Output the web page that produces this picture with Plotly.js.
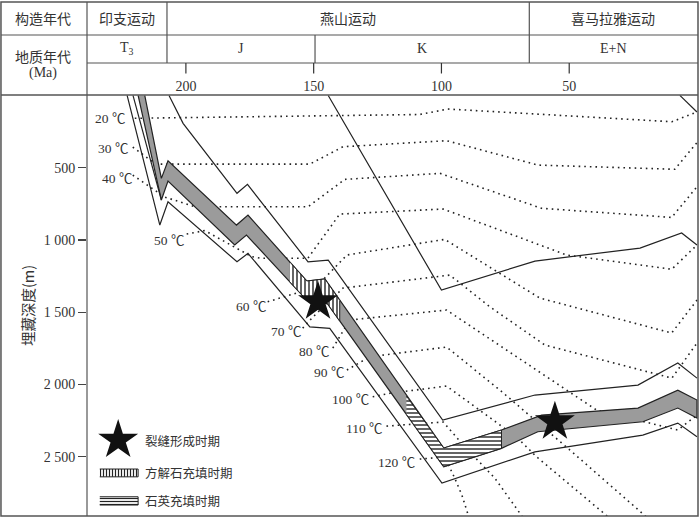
<!DOCTYPE html>
<html>
<head>
<meta charset="utf-8">
<script src="https://cdn.plot.ly/plotly-3.0.1.min.js"></script>
<style>
  html, body { margin: 0; padding: 0; background: #fff; }
  #chart { width: 700px; height: 517px; }
</style>
</head>
<body>
<div id="chart"></div>
<script>
// burial history, ages in Ma, depths in m

// target formation (grey band)
const bandTopAge = [216.1, 209.6, 207.0, 180.2, 175.7, 152.7, 145.6, 99.1, 76.5, 60.8, 23.1, 7.5, 0];
const bandTopDepth = [0, 574, 452, 897, 828, 1284, 1270, 2440, 2315, 2212, 2163, 2039, 2108];
const bandBaseAge = [218.7, 209.6, 207.0, 180.9, 176.3, 152.7, 145.6, 99.1, 76.5, 62.3, 21.2, 7.5, 0];
const bandBaseDepth = [0, 724, 592, 1035, 966, 1416, 1416, 2569, 2442, 2327, 2258, 2163, 2232];

// other layer boundaries
const upperAge = [206.6, 201.1, 180.0, 175.9, 152.2, 144.3, 99.5, 63.4, 23.1, 7.5, 0];
const upperDepth = [0, 193, 677, 615, 1151, 1139, 2246, 2073, 2004, 1852, 1956];
const lowerAge = [223.0, 210.2, 207.0, 180.0, 175.7, 151.5, 143.7, 99.8, 63.4, 21.2, 7.5, 0];
const lowerDepth = [0, 897, 736, 1151, 1093, 1601, 1612, 2682, 2466, 2350, 2267, 2362];
const innerAge = [220.7, 209.6];
const innerDepth = [0, 724];
const kAge = [144.3, 100.0, 63.4, 22.3, 6.0, 0];
const kDepth = [0, 1347, 1146, 1056, 952, 1035];
const youngAge = [6.7, 0];
const youngDepth = [0, 115];

// filling periods
const calciteAge = [159.3, 152.7, 145.6, 139.8, 139.8, 145.6, 152.7, 159.3];
const calciteDepth = [1153, 1284, 1270, 1418, 1561, 1416, 1416, 1291];
const quartzAge = [113.7, 99.1, 76.5, 76.5, 99.1, 113.7];
const quartzDepth = [2080, 2440, 2315, 2442, 2569, 2207];

// fracture formation
const starAge = [148.3, 55.6];
const starDepth = [1428, 2258];

// isotherms
const isoTemp = [20, 30, 40, 50, 60, 70, 80, 90, 100, 110, 120];
const isoAge = [
  [220.0, 108.5, 97.5, 57.6, 9.8, 0],
  [220.8, 211.8, 151.5, 138.5, 98.0, 62.2, 8.7, 0],
  [220.8, 208.3, 196.5, 152.2, 137.8, 100.6, 60.8, 9.9, 0],
  [199.7, 192.6, 174.2, 170.3, 152.3, 139.8, 99.3, 51.0, 9.9, 0],
  [168.0, 155.4, 146.4, 137.0, 98.7, 61.5, 9.9, 0],
  [154.3, 150.3, 138.5, 96.7, 81.1, 59.5, 9.8, 0],
  [142.5, 135.9, 98.0, 39.3, 7.5, 0],
  [137.0, 128.0, 98.0, 77.1, 49.7, 18.4],
  [126.9, 120.2, 98.0, 70.6, 62.8, 33.3],
  [121.5, 99.3, 90.8, 79.1, 67.4],
  [108.5, 98.7, 94.8, 92.0, 88.9]
];
const isoDepth = [
  [158, 132, 94, 136, 182, 115],
  [357, 475, 475, 355, 313, 482, 511, 326],
  [551, 703, 770, 770, 581, 539, 781, 844, 632],
  [959, 935, 1116, 1127, 1127, 821, 786, 1104, 1203, 1035],
  [1428, 1360, 1277, 1104, 996, 1402, 1644, 1416],
  [1610, 1533, 1333, 1243, 1462, 1727, 1956, 1713],
  [1748, 1554, 1485, 2177, 2315, 2212],
  [1900, 1808, 1741, 2039, 2454, 2938],
  [2085, 2061, 2011, 2364, 2500, 2938],
  [2288, 2260, 2433, 2648, 2938],
  [2516, 2502, 2648, 2765, 2938]
];
const isoLabelAge = [229.8, 228.6, 227.1, 206.7, 174.6, 160.9, 149.9, 144.1, 135.5, 130.0, 117.5];
const isoLabelDepth = [158, 366, 572, 1001, 1462, 1635, 1774, 1919, 2101, 2302, 2542];

// legend
const legendText = ['裂缝形成时期', '方解石充填时期', '石英充填时期'];
const legendAge = [216.6, 216.6, 216.6];
const legendDepth = [2385, 2612, 2806];

// header
const tectonicText = ['印支运动', '燕山运动', '喜马拉雅运动'];
const tectonicX = [0.0655, 0.4272, 0.8617];
const periodText = ['T<sub>3</sub>', 'J', 'K', 'E+N'];
const periodX = [0.0655, 0.252, 0.548, 0.8617];
const ageTicks = [200, 150, 100, 50];
const depthTicks = [500, 1000, 1500, 2000, 2500];
const depthTickText = ['500', '1 000', '1 500', '2 000', '2 500'];

const ink = '#222';
const serif = 'Liberation Serif, Noto Sans CJK SC, serif';
const cjk = 'Noto Sans CJK SC, sans-serif';

let traces = [];

// isotherms first so the band covers them
for (let i = 0; i < isoTemp.length; i++) {
  traces.push({
    x: isoAge[i], y: isoDepth[i], mode: 'lines',
    line: {color: ink, width: 1.6, dash: '1.6px,4px'},
    hoverinfo: 'skip'
  });
}

// grey band
traces.push({
  x: bandTopAge.concat(bandBaseAge.slice().reverse()),
  y: bandTopDepth.concat(bandBaseDepth.slice().reverse()),
  mode: 'lines', fill: 'toself', fillcolor: '#9b9b9b',
  line: {color: ink, width: 1.2}
});

// calcite (vertical hatch)
traces.push({
  x: calciteAge, y: calciteDepth, mode: 'lines', fill: 'toself', fillcolor: '#fff',
  fillpattern: {shape: '|', fgcolor: ink, bgcolor: '#fff', size: 4, solidity: 0.35},
  line: {color: ink, width: 1}
});
// quartz (horizontal hatch)
traces.push({
  x: quartzAge, y: quartzDepth, mode: 'lines', fill: 'toself', fillcolor: '#fff',
  fillpattern: {shape: '-', fgcolor: ink, bgcolor: '#fff', size: 4, solidity: 0.35},
  line: {color: ink, width: 1}
});

[[upperAge, upperDepth], [lowerAge, lowerDepth], [innerAge, innerDepth],
 [kAge, kDepth], [youngAge, youngDepth]].forEach(function (s) {
  traces.push({x: s[0], y: s[1], mode: 'lines', line: {color: ink, width: 1.2}});
});

// stars
traces.push({
  x: starAge, y: starDepth, mode: 'markers',
  marker: {symbol: 'star', size: 30, color: '#111', line: {width: 0}}
});

// legend marks
traces.push({
  x: [226.5], y: [2385], mode: 'markers',
  marker: {symbol: 'star', size: 30, color: '#111', line: {width: 0}}
});
traces.push({
  x: [233.7, 218.7, 218.7, 233.7], y: [2585, 2585, 2639, 2639], mode: 'lines',
  fill: 'toself', fillcolor: '#fff',
  fillpattern: {shape: '|', fgcolor: ink, bgcolor: '#fff', size: 3, solidity: 0.4},
  line: {color: ink, width: 1}
});
traces.push({
  x: [233.7, 218.7, 218.7, 233.7], y: [2777, 2777, 2834, 2834], mode: 'lines',
  fill: 'toself', fillcolor: '#fff',
  fillpattern: {shape: '-', fgcolor: ink, bgcolor: '#fff', size: 3, solidity: 0.4},
  line: {color: ink, width: 1}
});

function note(x, y, xref, yref, text, font, xanchor) {
  return {x: x, y: y, xref: xref, yref: yref, text: text, showarrow: false,
    xanchor: xanchor || 'center', yanchor: 'middle', font: font};
}

const labelFont = {family: serif, size: 13.5, color: '#333'};
const headFont = {family: cjk, size: 14, color: '#333'};
const headSerif = {family: serif, size: 14, color: '#333'};

let annotations = [];
for (let i = 0; i < isoTemp.length; i++) {
  annotations.push(note(isoLabelAge[i], isoLabelDepth[i], 'x', 'y', isoTemp[i] + ' ℃', labelFont));
}
for (let i = 0; i < legendText.length; i++) {
  annotations.push(note(legendAge[i], legendDepth[i], 'x', 'y', legendText[i],
    {family: cjk, size: 12.5, color: '#333'}, 'left'));
}
annotations.push(note(-0.072, 1.1829, 'paper', 'paper', '构造年代', headFont));
annotations.push(note(-0.072, 1.0926, 'paper', 'paper', '地质年代', headFont));
annotations.push(note(-0.072, 1.0523, 'paper', 'paper', '(Ma)', headSerif));
for (let i = 0; i < tectonicText.length; i++) {
  annotations.push(note(tectonicX[i], 1.1829, 'paper', 'paper', tectonicText[i], headFont));
}
for (let i = 0; i < periodText.length; i++) {
  annotations.push(note(periodX[i], 1.1093, 'paper', 'paper', periodText[i], headSerif));
}

// table frame
const frame = '#555';
let shapes = [
  {type: 'rect', xref: 'paper', yref: 'paper', x0: -0.1408, x1: 1, y0: 0, y1: 1.2209,
   line: {color: frame, width: 1.5}},
  {type: 'line', xref: 'paper', yref: 'paper', x0: -0.1408, x1: 1, y0: 1.1425, y1: 1.1425, line: {color: frame, width: 1.2}},
  {type: 'line', xref: 'paper', yref: 'paper', x0: 0, x1: 1, y0: 1.076, y1: 1.076, line: {color: frame, width: 1.2}},
  {type: 'line', xref: 'paper', yref: 'paper', x0: -0.1408, x1: 1, y0: 1, y1: 1, line: {color: frame, width: 1.5}},
  {type: 'line', xref: 'paper', yref: 'paper', x0: 0, x1: 0, y0: 0, y1: 1.2209, line: {color: frame, width: 1.2}},
  {type: 'line', xref: 'paper', yref: 'paper', x0: 0.1309, x1: 0.1309, y0: 1.076, y1: 1.2209, line: {color: frame, width: 1.2}},
  {type: 'line', xref: 'paper', yref: 'paper', x0: 0.7239, x1: 0.7239, y0: 1.076, y1: 1.2209, line: {color: frame, width: 1.2}},
  {type: 'line', xref: 'paper', yref: 'paper', x0: 0.3732, x1: 0.3732, y0: 1.076, y1: 1.1425, line: {color: frame, width: 1.2}}
];
ageTicks.forEach(function (a) {
  shapes.push({type: 'line', xref: 'x', yref: 'paper', x0: a, x1: a, y0: 1.076, y1: 1.0511,
    line: {color: '#333', width: 1.2}});
});

const layout = {
  width: 700, height: 517,
  margin: {l: 87, r: 2, t: 95, b: 1},
  paper_bgcolor: '#fff', plot_bgcolor: '#fff',
  showlegend: false,
  xaxis: {
    range: [238.7, -0.4], side: 'top', showgrid: false, zeroline: false, showline: false,
    tickvals: ageTicks, ticktext: ageTicks.map(String), ticks: '',
    tickfont: {family: serif, size: 14, color: '#333'}
  },
  yaxis: {
    range: [2910, -3], showgrid: false, zeroline: false, showline: false,
    tickvals: depthTicks, ticktext: depthTickText, ticks: 'outside', ticklen: 8,
    tickwidth: 1.2, tickcolor: '#444',
    tickfont: {family: serif, size: 14, color: '#333'},
    title: {text: '埋藏深度(m)', font: {family: cjk, size: 14.5, color: '#333'}, standoff: 5}
  },
  annotations: annotations,
  shapes: shapes
};

Plotly.newPlot('chart', traces, layout, {displayModeBar: false, staticPlot: true});
</script>
</body>
</html>
